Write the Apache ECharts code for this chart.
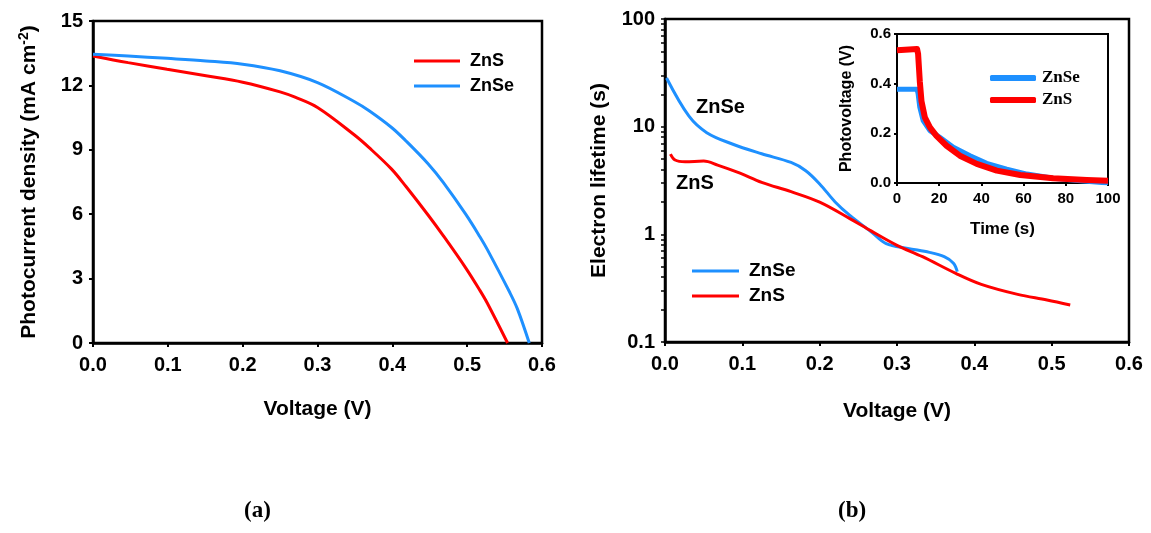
<!DOCTYPE html>
<html>
<head>
<meta charset="utf-8">
<script src="https://cdn.jsdelivr.net/npm/echarts@6/dist/echarts.min.js"></script>
<style>
html,body{margin:0;padding:0;background:#fff;}
#c{width:1151px;height:533px;}
</style>
</head>
<body>
<div id="c"></div>
<script>
// Panel (a): J-V curves
const voltA_ZnS  = [0, 0.047, 0.099, 0.151, 0.2, 0.25, 0.27, 0.3, 0.349, 0.369, 0.399, 0.418, 0.448, 0.468, 0.498, 0.517, 0.527, 0.554];
const jsc_ZnS    = [13.37, 13.06, 12.75, 12.45, 12.15, 11.7, 11.45, 10.97, 9.7, 9.1, 8.1, 7.3, 5.95, 5.0, 3.5, 2.45, 1.85, 0];
const voltA_ZnSe = [0, 0.047, 0.099, 0.151, 0.2, 0.25, 0.3, 0.349, 0.369, 0.399, 0.418, 0.448, 0.468, 0.498, 0.517, 0.527, 0.557, 0.567, 0.583];
const jsc_ZnSe   = [13.45, 13.37, 13.26, 13.14, 12.99, 12.68, 12.13, 11.25, 10.82, 10.04, 9.42, 8.34, 7.48, 6.0, 4.95, 4.35, 2.35, 1.6, 0];

// Panel (b): electron lifetime vs voltage
const voltB_ZnSe = [0.002, 0.031, 0.054, 0.087, 0.125, 0.163, 0.182, 0.2, 0.22, 0.239, 0.267, 0.286, 0.314, 0.342, 0.361, 0.373, 0.378];
const life_ZnSe  = [28.3, 12.5, 8.8, 6.9, 5.6, 4.65, 3.9, 2.94, 2.0, 1.5, 1.05, 0.82, 0.74, 0.68, 0.62, 0.54, 0.45];
const voltB_ZnS  = [0.007, 0.013, 0.026, 0.05, 0.068, 0.097, 0.125, 0.163, 0.2, 0.239, 0.267, 0.3, 0.333, 0.376, 0.409, 0.456, 0.494, 0.524];
const life_ZnS   = [5.56, 4.9, 4.72, 4.79, 4.4, 3.7, 3.04, 2.49, 1.99, 1.4, 1.07, 0.79, 0.62, 0.434, 0.343, 0.277, 0.246, 0.221];

// Inset: photovoltage decay
const time_ZnSe  = [0, 9.5, 10, 10.8, 12.4, 15.6, 20.3, 26.7, 34.6, 42.5, 52, 61.6, 74, 87, 100];
const pv_ZnSe    = [0.378, 0.378, 0.36, 0.305, 0.251, 0.211, 0.184, 0.144, 0.11, 0.079, 0.056, 0.036, 0.019, 0.009, 0.0];
const time_ZnS   = [0, 9.5, 10, 10.8, 11.6, 13.2, 15.6, 18.7, 23.5, 29.8, 37.8, 47.3, 58.4, 74, 90, 100];
const pv_ZnS     = [0.535, 0.54, 0.52, 0.41, 0.33, 0.264, 0.224, 0.19, 0.15, 0.11, 0.077, 0.05, 0.032, 0.019, 0.012, 0.009];

// Tick labels
const voltTicks = ['0.0','0.1','0.2','0.3','0.4','0.5','0.6'];
const lifeTicks = [0.1, 1, 10, 100];

const RED = '#ff0000', BLUE = '#1e90ff';
const SANS = '"Liberation Sans", Arial, sans-serif';
const SERIF = '"Liberation Serif", "Times New Roman", serif';

function zip(a, b){ return a.map((v,i)=>[v,b[i]]); }

const logMinor = [];
[0.1,1,10].forEach(d=>{ for(let k=1;k<=10;k++) logMinor.push(+(d*k).toPrecision(3)); });

const tickLbl = {color:'#000', fontFamily:SANS, fontWeight:'bold', fontSize:20};
const axLine = {show:true, lineStyle:{color:'#000', width:2.5}};
const axTick = {show:true, inside:false, length:4, lineStyle:{color:'#000', width:2}};
const nameSt = {color:'#000', fontFamily:SANS, fontWeight:'bold', fontSize:21};

const chart = echarts.init(document.getElementById('c'), null, {renderer:'canvas'});
chart.setOption({
  backgroundColor:'#fff',
  animation:false,
  grid:[
    {left:93, top:21, width:449, height:322, show:true, borderColor:'#000', borderWidth:2.5, backgroundColor:'transparent'},
    {left:665, top:19, width:464, height:323, show:true, borderColor:'#000', borderWidth:2.5, backgroundColor:'transparent'},
    {left:897, top:34, width:211, height:149, show:true, borderColor:'#000', borderWidth:2, backgroundColor:'#fff'}
  ],
  xAxis:[
    {gridIndex:0, type:'value', min:0, max:0.6, interval:0.1, axisLine:axLine, axisTick:axTick, splitLine:{show:false},
     axisLabel:Object.assign({margin:12, formatter:(v)=>voltTicks[Math.round(v*10)]}, tickLbl),
     name:'Voltage (V)', nameLocation:'middle', nameGap:56, nameTextStyle:nameSt},
    {gridIndex:1, type:'value', min:0, max:0.6, interval:0.1, axisLine:axLine, axisTick:axTick, splitLine:{show:false},
     axisLabel:Object.assign({margin:12, formatter:(v)=>voltTicks[Math.round(v*10)]}, tickLbl),
     name:'Voltage (V)', nameLocation:'middle', nameGap:59, nameTextStyle:nameSt},
    {gridIndex:2, type:'value', min:0, max:100, interval:20, axisLine:{show:true, lineStyle:{color:'#000', width:2}}, axisTick:{show:true, length:3, lineStyle:{color:'#000', width:2}}, splitLine:{show:false},
     axisLabel:{margin:8, color:'#000', fontFamily:SANS, fontWeight:'bold', fontSize:15},
     name:'Time (s)', nameLocation:'middle', nameGap:38, nameTextStyle:{color:'#000', fontFamily:SANS, fontWeight:'bold', fontSize:17}}
  ],
  yAxis:[
    {gridIndex:0, type:'value', min:0, max:15, interval:3, axisLine:axLine, axisTick:axTick, splitLine:{show:false},
     axisLabel:Object.assign({margin:10}, tickLbl),
     name:'{t|Photocurrent density (mA cm}{s|-2}{t|)}', nameLocation:'middle', nameGap:52, nameRotate:90,
     nameTextStyle:{rich:{t:nameSt, s:{color:'#000', fontFamily:SANS, fontWeight:'bold', fontSize:14, verticalAlign:'top', padding:[0,0,10,0]}}}},
    {gridIndex:1, type:'log', logBase:10, min:0.1, max:100, axisLine:axLine,
     axisTick:{show:true, inside:false, length:4, lineStyle:{color:'#000', width:1.5}, customValues:logMinor},
     splitLine:{show:false},
     axisLabel:Object.assign({margin:10, customValues:lifeTicks, formatter:(v)=>String(v)}, tickLbl),
     name:'Electron lifetime (s)', nameLocation:'middle', nameGap:55, nameRotate:90, nameTextStyle:nameSt},
    {gridIndex:2, type:'value', min:0, max:0.6, interval:0.2, axisLine:{show:true, lineStyle:{color:'#000', width:2}}, axisTick:{show:true, length:3, lineStyle:{color:'#000', width:2}}, splitLine:{show:false},
     axisLabel:{margin:6, color:'#000', fontFamily:SANS, fontWeight:'bold', fontSize:15, formatter:(v)=>v.toFixed(1)},
     name:'Photovoltage (V)', nameLocation:'middle', nameGap:42, nameRotate:90, nameTextStyle:{color:'#000', fontFamily:SANS, fontWeight:'bold', fontSize:16}}
  ],
  legend:[
    {data:['ZnS','ZnSe'], orient:'vertical', left:409, top:46, icon:'rect', itemWidth:46, itemHeight:3, itemGap:5,
     textStyle:{color:'#000', fontFamily:SANS, fontWeight:'bold', fontSize:18, lineHeight:20, padding:[0,0,0,5]}, selectedMode:false},
    {data:['ZnSe','ZnS'], orient:'vertical', left:687, top:256, icon:'rect', itemWidth:47, itemHeight:3, itemGap:5,
     textStyle:{color:'#000', fontFamily:SANS, fontWeight:'bold', fontSize:19, lineHeight:20, padding:[0,0,0,5]}, selectedMode:false},
    {data:['ZnSe','ZnS'], orient:'vertical', left:985, top:64, icon:'roundRect', itemWidth:46, itemHeight:6, itemGap:4,
     textStyle:{color:'#000', fontFamily:SERIF, fontWeight:'bold', fontSize:17, lineHeight:18, padding:[0,0,0,1]}, selectedMode:false}
  ],
  series:[
    {name:'ZnS', type:'line', xAxisIndex:0, yAxisIndex:0, data:zip(voltA_ZnS, jsc_ZnS), smooth:0.35, showSymbol:false, lineStyle:{color:RED, width:3}, itemStyle:{color:RED}},
    {name:'ZnSe', type:'line', xAxisIndex:0, yAxisIndex:0, data:zip(voltA_ZnSe, jsc_ZnSe), smooth:0.35, showSymbol:false, lineStyle:{color:BLUE, width:3}, itemStyle:{color:BLUE}},
    {name:'ZnSe', type:'line', xAxisIndex:1, yAxisIndex:1, data:zip(voltB_ZnSe, life_ZnSe), smooth:0.35, showSymbol:false, lineStyle:{color:BLUE, width:3}, itemStyle:{color:BLUE}},
    {name:'ZnS', type:'line', xAxisIndex:1, yAxisIndex:1, data:zip(voltB_ZnS, life_ZnS), smooth:0.35, showSymbol:false, lineStyle:{color:RED, width:3}, itemStyle:{color:RED}},
    {name:'ZnSe', type:'line', xAxisIndex:2, yAxisIndex:2, data:zip(time_ZnSe, pv_ZnSe), smooth:false, showSymbol:false, lineStyle:{color:BLUE, width:5, join:'round'}, itemStyle:{color:BLUE}, z:3},
    {name:'ZnS', type:'line', xAxisIndex:2, yAxisIndex:2, data:zip(time_ZnS, pv_ZnS), smooth:false, showSymbol:false, lineStyle:{color:RED, width:6, join:'round'}, itemStyle:{color:RED}, z:4}
  ],
  graphic:[
    {type:'text', left:696, top:97, style:{text:'ZnSe', fill:'#000', font:'bold 20px "Liberation Sans", Arial, sans-serif'}},
    {type:'text', left:676, top:173, style:{text:'ZnS', fill:'#000', font:'bold 20px "Liberation Sans", Arial, sans-serif'}},
    {type:'text', left:244, top:500, style:{text:'(a)', fill:'#000', font:'bold 23px "Liberation Serif", "Times New Roman", serif'}},
    {type:'text', left:838, top:500, style:{text:'(b)', fill:'#000', font:'bold 23px "Liberation Serif", "Times New Roman", serif'}}
  ]
});
</script>
</body>
</html>
